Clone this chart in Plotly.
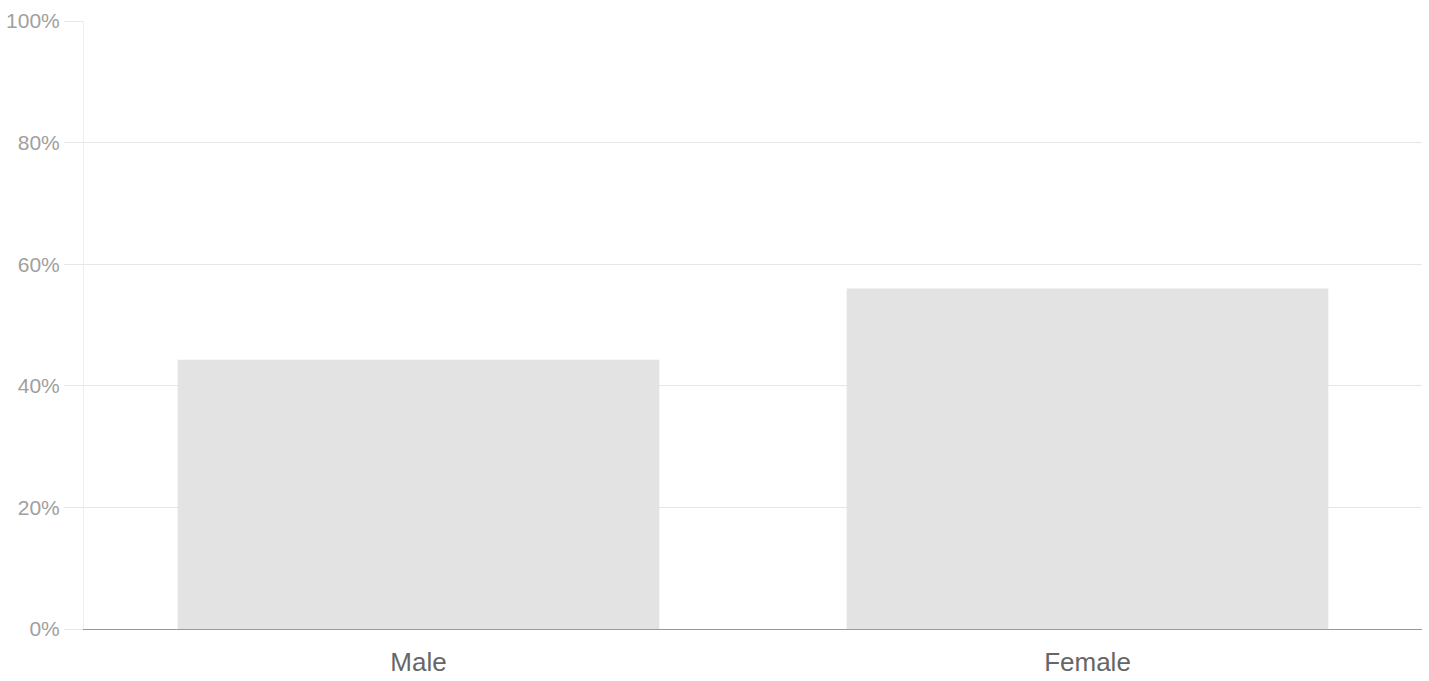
import plotly.graph_objects as go

categories = ["Male", "Female"]
shares = [44.3, 56.0]
tick_vals = [0, 20, 40, 60, 80, 100]
tick_text = ["0%", "20%", "40%", "60%", "80%", "100%"]

fig = go.Figure()

fig.add_trace(go.Bar(
    x=categories,
    y=shares,
    marker=dict(color="#e3e3e3", line_width=0),
    hoverinfo="x+y",
))

fig.update_layout(
    width=1429,
    height=681,
    margin=dict(l=84, r=7, t=21, b=52),
    paper_bgcolor="white",
    plot_bgcolor="white",
    bargap=0.28,
    showlegend=False,
    font=dict(family="Arial, Liberation Sans, sans-serif"),
    xaxis=dict(
        automargin=False,
        showgrid=False,
        showline=True,
        linecolor="#999999",
        linewidth=1,
        tickfont=dict(size=26, color="#666666"),
        ticks="outside",
        ticklen=10,
        tickcolor="rgba(0,0,0,0)",
    ),
    yaxis=dict(
        automargin=False,
        range=[0, 100],
        tickvals=tick_vals,
        ticktext=tick_text,
        showgrid=True,
        gridcolor="#e6e6e6",
        gridwidth=1,
        zeroline=False,
        showline=True,
        linecolor="#eeeeee",
        ticks="outside",
        ticklen=19,
        tickcolor="#e6e6e6",
        tickfont=dict(size=21, color="#a0a0a0"),
    ),
)

# drop the default page margin so the figure fills the window
fig.write_html(
    "out.html",
    config={"displayModeBar": False},
    post_script="document.body.style.margin='0';",
)
